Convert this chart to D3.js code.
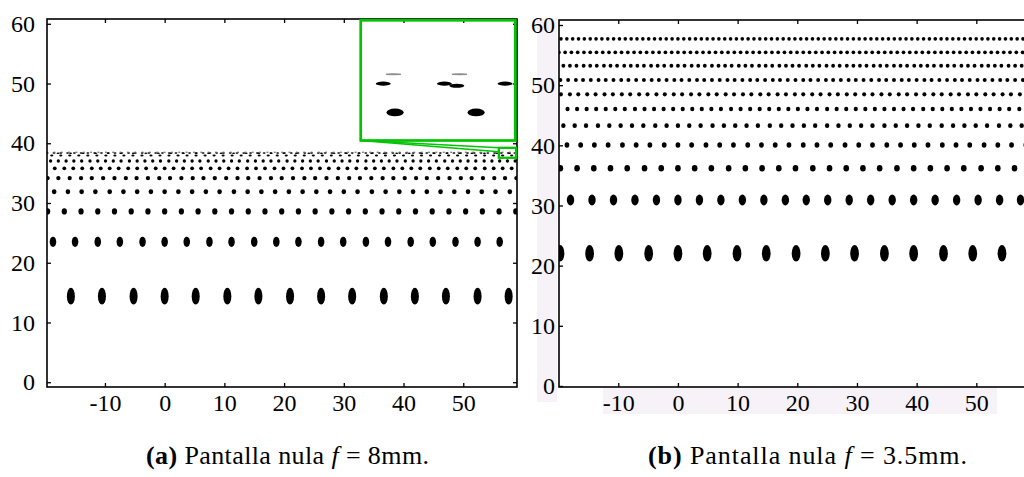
<!DOCTYPE html>
<html>
<head>
<meta charset="utf-8">
<script src="https://cdn.jsdelivr.net/npm/d3@7"></script>
<style>
  body { margin: 0; background: #fff; }
  svg { display: block; }
  .tick text { font-family: "Liberation Serif", "Times New Roman", serif; font-size: 24px; fill: #000; }
  .caption { font-family: "Liberation Serif", "Times New Roman", serif; font-size: 26px; fill: #000; }
</style>
</head>
<body>
<svg id="chart" width="1024" height="477"></svg>
<script>
// Tick values shared by both panels
const xTicks = [-10, 0, 10, 20, 30, 40, 50];
const yTicks = [0, 10, 20, 30, 40, 50, 60];

// (a) null screen f = 8mm: spot rows (y in mm), spot semi-axes (mm), spot x positions (mm)
const rowsAY = [14.41, 23.50, 28.59, 31.88, 34.17, 35.80, 37.02, 37.96, 38.36, 38.33];
const rowsARx = [0.67, 0.55, 0.44, 0.39, 0.36, 0.32, 0.28, 0.16, 0.14, 0.14];
const rowsARy = [1.42, 0.85, 0.52, 0.41, 0.37, 0.33, 0.29, 0.053, 0.028, 0.028];
const rowsAX = [
  [-15.7, -10.5, -5.2, 0, 5.2, 10.5, 15.7, 21.0, 26.2, 31.4, 36.7, 41.9, 47.1, 52.4, 57.6],
  [-18.7, -15.0, -11.2, -7.5, -3.7, 0, 3.7, 7.5, 11.2, 15.0, 18.7, 22.4, 26.2, 29.9, 33.7, 37.4, 41.2, 44.9, 48.7, 52.4, 56.1],
  [-19.6, -16.8, -14.0, -11.2, -8.4, -5.6, -2.8, 0, 2.8, 5.6, 8.4, 11.2, 14.0, 16.8, 19.6, 22.4, 25.2, 28.0, 30.8, 33.6, 36.4, 39.2, 42.0, 44.8, 47.6, 50.4, 53.2, 56.0, 58.8],
  [-18.5, -16.2, -13.9, -11.6, -9.2, -6.9, -4.6, -2.3, 0, 2.3, 4.6, 6.9, 9.2, 11.6, 13.9, 16.2, 18.5, 20.8, 23.1, 25.4, 27.7, 30.0, 32.3, 34.7, 37.0, 39.3, 41.6, 43.9, 46.2, 48.5, 50.8, 53.1, 55.4, 57.8],
  [-19.6, -17.8, -15.9, -14.0, -12.2, -10.3, -8.4, -6.5, -4.7, -2.8, -0.9, 0.9, 2.8, 4.7, 6.5, 8.4, 10.3, 12.2, 14.0, 15.9, 17.8, 19.6, 21.5, 23.4, 25.2, 27.1, 29.0, 30.9, 32.7, 34.6, 36.5, 38.3, 40.2, 42.1, 43.9, 45.8, 47.7, 49.6, 51.4, 53.3, 55.2, 57.0, 58.9],
  [-18.4, -16.8, -15.3, -13.8, -12.2, -10.7, -9.2, -7.7, -6.1, -4.6, -3.1, -1.5, 0, 1.5, 3.1, 4.6, 6.1, 7.7, 9.2, 10.7, 12.2, 13.8, 15.3, 16.8, 18.4, 19.9, 21.4, 23.0, 24.5, 26.0, 27.5, 29.1, 30.6, 32.1, 33.7, 35.2, 36.7, 38.3, 39.8, 41.3, 42.8, 44.4, 45.9, 47.4, 49.0, 50.5, 52.0, 53.6, 55.1, 56.6, 58.1],
  [-19.1, -17.8, -16.5, -15.2, -13.9, -12.5, -11.2, -9.9, -8.6, -7.3, -5.9, -4.6, -3.3, -2.0, -0.7, 0.7, 2.0, 3.3, 4.6, 5.9, 7.3, 8.6, 9.9, 11.2, 12.5, 13.9, 15.2, 16.5, 17.8, 19.1, 20.5, 21.8, 23.1, 24.4, 25.7, 27.1, 28.4, 29.7, 31.0, 32.3, 33.7, 35.0, 36.3, 37.6, 38.9, 40.3, 41.6, 42.9, 44.2, 45.5, 46.9, 48.2, 49.5, 50.8, 52.1, 53.5, 54.8, 56.1, 57.4, 58.7],
  [-18.90, -17.39, -15.88, -14.37, -12.86, -11.35, -9.84, -8.33, -6.82, -5.31, -3.80, -2.29, -0.78, 0.73, 2.24, 3.75, 5.26, 6.77, 8.28, 9.79, 11.30, 12.81, 14.32, 15.83, 17.34, 18.85, 20.36, 21.87, 23.38, 24.89, 26.40, 27.91, 29.42, 30.93, 32.44, 33.95, 35.46, 36.97, 38.48, 39.99, 41.50, 43.01, 44.52, 46.03, 47.54, 49.05, 50.56, 52.07, 53.58, 55.09, 56.60, 58.11],
  [-19.66, -18.53, -17.39, -16.26, -15.12, -13.99, -12.85, -11.72, -10.58, -9.45, -8.31, -7.18, -6.04, -4.91, -3.77, -2.64, -1.50, -0.37, 0.77, 1.90, 3.04, 4.17, 5.31, 6.44, 7.58, 8.71, 9.85, 10.98, 12.12, 13.25, 14.39, 15.52, 16.66, 17.79, 18.93, 20.06, 21.20, 22.33, 23.47, 24.60, 25.74, 26.87, 28.01, 29.14, 30.28, 31.41, 32.55, 33.68, 34.82, 35.95, 37.09, 38.22, 39.36, 40.49, 41.63, 42.76, 43.90, 45.03, 46.17, 47.30, 48.44, 49.57, 50.71, 51.84, 52.98, 54.11, 55.25, 56.38, 57.52, 58.65],
  [-17.85, -15.75, -13.65, -11.55, -9.45, -7.35, -5.25, -3.15, -1.05, 1.05, 3.15, 5.25, 7.35, 9.45, 11.55, 13.65, 15.75, 17.85, 19.95, 22.05, 24.15, 26.25, 28.35, 30.45, 32.55, 34.65, 36.75, 38.85, 40.95, 43.05, 45.15, 47.25, 49.35, 51.45, 53.55, 55.65, 57.75]
];
// (a) faint dash-like spots of the last row
const dashAY = 38.49;
const dashARx = 0.14;
const dashARy = 0.006;
const dashAX = [-19.69, -18.46, -17.23, -16.00, -14.77, -13.54, -12.31, -11.08, -9.85, -8.62, -7.39, -6.16, -4.93, -3.70, -2.47, -1.24, -0.01, 1.22, 2.45, 3.68, 4.91, 6.14, 7.37, 8.60, 9.83, 11.06, 12.29, 13.52, 14.75, 15.98, 17.21, 18.44, 19.67, 20.90, 22.13, 23.36, 24.59, 25.82, 27.05, 28.28, 29.51, 30.74, 31.97, 33.20, 34.43, 35.66, 36.89, 38.12, 39.35, 40.58, 41.81, 43.04, 44.27, 45.50, 46.73, 47.96, 49.19, 50.42, 51.65, 52.88, 54.11, 55.34, 56.57, 57.80];
// (a) magnified region (mm)
const zoomAX = [55.96, 58.84];
const zoomAY = [37.57, 39.24];

// (b) null screen f = 3.5mm
const rowsBY = [22.05, 30.91, 36.18, 40.05, 43.26, 46.04, 48.48, 50.86, 53.23, 55.46, 57.70];
const rowsBRx = [0.73, 0.62, 0.47, 0.40, 0.37, 0.35, 0.34, 0.33, 0.32, 0.31, 0.30];
const rowsBRy = [1.38, 0.90, 0.55, 0.45, 0.40, 0.37, 0.35, 0.34, 0.33, 0.32, 0.31];
const rowsBX = [
  [-19.76, -14.8, -9.9, -4.9, 0, 4.9, 9.9, 14.8, 19.8, 24.7, 29.6, 34.6, 39.5, 44.5, 49.4, 54.3],
  [-18.0, -14.4, -10.8, -7.2, -3.6, 0, 3.6, 7.2, 10.8, 14.4, 18.0, 21.5, 25.1, 28.7, 32.3, 35.9, 39.5, 43.1, 46.7, 50.3, 53.9, 57.4],
  [-19.7, -16.9, -14.1, -11.3, -8.5, -5.6, -2.8, 0, 2.8, 5.6, 8.5, 11.3, 14.1, 16.9, 19.7, 22.6, 25.4, 28.2, 31.0, 33.8, 36.7, 39.5, 42.3, 45.1, 47.9, 50.8, 53.6, 56.4],
  [-18.6, -16.3, -14.0, -11.7, -9.3, -7.0, -4.7, -2.3, 0, 2.3, 4.7, 7.0, 9.3, 11.7, 14.0, 16.3, 18.6, 21.0, 23.3, 25.6, 28.0, 30.3, 32.6, 35.0, 37.3, 39.6, 41.9, 44.3, 46.6, 48.9, 51.3, 53.6, 55.9, 58.3],
  [-19.2, -17.3, -15.4, -13.4, -11.5, -9.6, -7.7, -5.8, -3.8, -1.9, 0, 1.9, 3.8, 5.8, 7.7, 9.6, 11.5, 13.4, 15.4, 17.3, 19.2, 21.1, 23.0, 25.0, 26.9, 28.8, 30.7, 32.6, 34.6, 36.5, 38.4, 40.3, 42.2, 44.2, 46.1, 48.0, 49.9, 51.8, 53.8, 55.7, 57.6],
  [-18.5, -16.9, -15.3, -13.7, -12.1, -10.5, -8.9, -7.2, -5.6, -4.0, -2.4, -0.8, 0.8, 2.4, 4.0, 5.6, 7.2, 8.9, 10.5, 12.1, 13.7, 15.3, 16.9, 18.5, 20.1, 21.7, 23.3, 25.0, 26.6, 28.2, 29.8, 31.4, 33.0, 34.6, 36.2, 37.8, 39.4, 41.1, 42.7, 44.3, 45.9, 47.5, 49.1, 50.7, 52.3, 53.9, 55.5, 57.2],
  [-19.6, -18.1, -16.7, -15.2, -13.8, -12.3, -10.9, -9.4, -8.0, -6.5, -5.1, -3.6, -2.2, -0.7, 0.7, 2.2, 3.6, 5.1, 6.5, 8.0, 9.4, 10.9, 12.3, 13.8, 15.2, 16.7, 18.1, 19.6, 21.0, 22.5, 23.9, 25.4, 26.8, 28.3, 29.7, 31.2, 32.6, 34.1, 35.5, 37.0, 38.4, 39.9, 41.3, 42.8, 44.2, 45.7, 47.1, 48.6, 50.0, 51.5, 52.9, 54.4, 55.8, 57.3],
  [-19.7, -18.4, -17.1, -15.9, -14.6, -13.3, -12.1, -10.8, -9.5, -8.3, -7.0, -5.7, -4.4, -3.2, -1.9, -0.6, 0.6, 1.9, 3.2, 4.4, 5.7, 7.0, 8.3, 9.5, 10.8, 12.1, 13.3, 14.6, 15.9, 17.1, 18.4, 19.7, 21.0, 22.2, 23.5, 24.8, 26.0, 27.3, 28.6, 29.8, 31.1, 32.4, 33.7, 34.9, 36.2, 37.5, 38.7, 40.0, 41.3, 42.5, 43.8, 45.1, 46.4, 47.6, 48.9, 50.2, 51.4, 52.7, 54.0, 55.2, 56.5, 57.8],
  [-19.2, -18.1, -17.0, -15.8, -14.7, -13.6, -12.4, -11.3, -10.2, -9.0, -7.9, -6.8, -5.7, -4.5, -3.4, -2.3, -1.1, 0, 1.1, 2.3, 3.4, 4.5, 5.7, 6.8, 7.9, 9.0, 10.2, 11.3, 12.4, 13.6, 14.7, 15.8, 17.0, 18.1, 19.2, 20.3, 21.5, 22.6, 23.7, 24.9, 26.0, 27.1, 28.3, 29.4, 30.5, 31.6, 32.8, 33.9, 35.0, 36.2, 37.3, 38.4, 39.6, 40.7, 41.8, 42.9, 44.1, 45.2, 46.3, 47.5, 48.6, 49.7, 50.9, 52.0, 53.1, 54.2, 55.4, 56.5, 57.6],
  [-19.95, -18.90, -17.85, -16.80, -15.75, -14.70, -13.65, -12.60, -11.55, -10.50, -9.45, -8.40, -7.35, -6.30, -5.25, -4.20, -3.15, -2.10, -1.05, 0, 1.05, 2.10, 3.15, 4.20, 5.25, 6.30, 7.35, 8.40, 9.45, 10.50, 11.55, 12.60, 13.65, 14.70, 15.75, 16.80, 17.85, 18.90, 19.95, 21.00, 22.05, 23.10, 24.15, 25.20, 26.25, 27.30, 28.35, 29.40, 30.45, 31.50, 32.55, 33.60, 34.65, 35.70, 36.75, 37.80, 38.85, 39.90, 40.95, 42.00, 43.05, 44.10, 45.15, 46.20, 47.25, 48.30, 49.35, 50.40, 51.45, 52.50, 53.55, 54.60, 55.65, 56.70, 57.75],
  [-19.60, -18.62, -17.64, -16.66, -15.68, -14.70, -13.72, -12.74, -11.76, -10.78, -9.80, -8.82, -7.84, -6.86, -5.88, -4.90, -3.92, -2.94, -1.96, -0.98, 0, 0.98, 1.96, 2.94, 3.92, 4.90, 5.88, 6.86, 7.84, 8.82, 9.80, 10.78, 11.76, 12.74, 13.72, 14.70, 15.68, 16.66, 17.64, 18.62, 19.60, 20.58, 21.56, 22.54, 23.52, 24.50, 25.48, 26.46, 27.44, 28.42, 29.40, 30.38, 31.36, 32.34, 33.32, 34.30, 35.28, 36.26, 37.24, 38.22, 39.20, 40.18, 41.16, 42.14, 43.12, 44.10, 45.08, 46.06, 47.04, 48.02, 49.00, 49.98, 50.96, 51.94, 52.92, 53.90, 54.88, 55.86, 56.84, 57.82]
];

const svg = d3.select('#chart');
const green = '#00c400';

// flatten rows into spot records
function spotsOf(ys, rxs, rys, rows) {
  const out = [];
  rows.forEach((xs, i) => xs.forEach((v) => out.push({ x: v, y: ys[i], rx: rxs[i], ry: rys[i] })));
  return out;
}
const spotsA = spotsOf(rowsAY, rowsARx, rowsARy, rowsAX);
const dashesA = dashAX.map((v) => ({ x: v, y: dashAY, rx: dashARx, ry: dashARy }));
const spotsB = spotsOf(rowsBY, rowsBRx, rowsBRy, rowsBX);

// draw ellipses through a pair of scales
function drawSpots(g, data, x, y) {
  return g.selectAll(null)
    .data(data)
    .join('ellipse')
    .attr('cx', (d) => x(d.x))
    .attr('cy', (d) => y(d.y))
    .attr('rx', (d) => Math.abs(x(d.x + d.rx) - x(d.x)))
    .attr('ry', (d) => Math.abs(y(d.y + d.ry) - y(d.y)));
}

// four-sided frame with inward ticks
function drawAxes(g, x, y, yPad) {
  const fmt = (d) => String(d);
  const [x0, x1] = x.range();
  const [y0, y1] = y.range();
  g.append('g').attr('transform', `translate(0,${y0})`)
    .call(d3.axisBottom(x).tickValues(xTicks).tickSizeInner(-4).tickSizeOuter(0).tickPadding(7).tickFormat(fmt));
  g.append('g').attr('transform', `translate(0,${y1})`)
    .call(d3.axisTop(x).tickValues(xTicks).tickSizeInner(-4).tickSizeOuter(0).tickFormat(''));
  g.append('g').attr('transform', `translate(${x0},0)`)
    .call(d3.axisLeft(y).tickValues(yTicks).tickSizeInner(-4).tickSizeOuter(0).tickPadding(yPad).tickFormat(fmt));
  g.append('g').attr('transform', `translate(${x1},0)`)
    .call(d3.axisRight(y).tickValues(yTicks).tickSizeInner(-4).tickSizeOuter(0).tickFormat(''));
  g.selectAll('.domain').remove();
  g.selectAll('.tick line').attr('stroke', '#000').attr('stroke-width', 1.3);
  g.append('rect')
    .attr('x', x0).attr('y', y1)
    .attr('width', x1 - x0).attr('height', y0 - y1)
    .attr('fill', 'none').attr('stroke', '#000').attr('stroke-width', 1.6);
}

function clipRect(id, x0, y0, x1, y1) {
  svg.append('clipPath').attr('id', id)
    .append('rect').attr('x', x0).attr('y', y0).attr('width', x1 - x0).attr('height', y1 - y0);
}

// pale band left behind panel (b) labels
svg.append('rect').attr('x', 537).attr('y', 18).attr('width', 20).attr('height', 384).attr('fill', '#f7f2f8');
svg.append('rect').attr('x', 603).attr('y', 388).attr('width', 394).attr('height', 26).attr('fill', '#f7f2f8');

// ---------- panel (a) ----------
const xA = d3.scaleLinear().domain([-19.7, 59.0]).range([47, 517]);
const yA = d3.scaleLinear().domain([-0.8, 60.8]).range([387, 19]);
clipRect('clipA', 47, 19, 517, 387);
const gA = svg.append('g');
const plotA = gA.append('g').attr('clip-path', 'url(#clipA)');
drawSpots(plotA, spotsA, xA, yA)
  .attr('fill', '#000')
  .attr('stroke', (d) => (d.ry < 0.1 ? '#000' : 'none'))
  .attr('stroke-width', 1.3);
drawSpots(plotA, dashesA, xA, yA).attr('fill', '#666').attr('stroke', '#666').attr('stroke-width', 0.9);
drawAxes(gA, xA, yA, 12);

// magnified inset
const inset = { x0: 360.7, x1: 515.3, y0: 20.3, y1: 140.5 };
const xI = d3.scaleLinear().domain(zoomAX).range([inset.x0, inset.x1]);
const yI = d3.scaleLinear().domain(zoomAY).range([inset.y1, inset.y0]);
clipRect('clipI', inset.x0, inset.y0, inset.x1, inset.y1);
const gI = gA.append('g').attr('clip-path', 'url(#clipI)');
drawSpots(gI, spotsA, xI, yI).attr('fill', '#000');
drawSpots(gI, dashesA, xI, yI).attr('fill', '#888').attr('stroke', '#888').attr('stroke-width', 1);

const sx0 = xA(zoomAX[0]), sx1 = xA(zoomAX[1]);
const sy0 = yA(zoomAY[1]), sy1 = yA(zoomAY[0]);
gA.append('line').attr('x1', inset.x0).attr('y1', inset.y1).attr('x2', sx0).attr('y2', sy0)
  .attr('stroke', green).attr('stroke-width', 1.6);
gA.append('line').attr('x1', inset.x0).attr('y1', inset.y1).attr('x2', sx0).attr('y2', (sy0 + sy1) / 2 - 1)
  .attr('stroke', green).attr('stroke-width', 1.4);
gA.append('rect')
  .attr('x', inset.x0).attr('y', inset.y0)
  .attr('width', inset.x1 - inset.x0).attr('height', inset.y1 - inset.y0)
  .attr('fill', 'none').attr('stroke', green).attr('stroke-width', 2.7);
gA.append('rect')
  .attr('x', sx0).attr('y', sy0)
  .attr('width', sx1 - sx0).attr('height', sy1 - sy0)
  .attr('fill', 'none').attr('stroke', green).attr('stroke-width', 2.3);

// ---------- panel (b) ----------
const xB = d3.scaleLinear().domain([-19.93, 60]).range([559, 1036]);
const yB = d3.scaleLinear().domain([-0.17, 60.83]).range([387, 20]);
clipRect('clipB', 559, 20, 1036, 387);
const gB = svg.append('g');
const plotB = gB.append('g').attr('clip-path', 'url(#clipB)');
drawSpots(plotB, spotsB, xB, yB).attr('fill', '#000');
drawAxes(gB, xB, yB, 4);

// ---------- captions ----------
function caption(x, width, label, value) {
  const t = svg.append('text').attr('class', 'caption')
    .attr('x', x).attr('y', 464)
    .attr('textLength', width).attr('lengthAdjust', 'spacing');
  t.append('tspan').attr('font-weight', 'bold').text(`(${label})`);
  t.append('tspan').text(' Pantalla nula ');
  t.append('tspan').attr('font-style', 'italic').text('f');
  t.append('tspan').text(` = ${value}mm.`);
  return t;
}
caption(146, 283, 'a', '8');
caption(648, 319, 'b', '3.5');
</script>
</body>
</html>
